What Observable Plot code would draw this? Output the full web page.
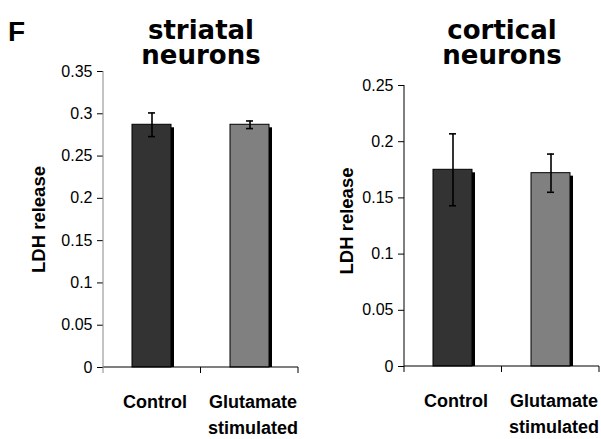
<!DOCTYPE html>
<html><head><meta charset="utf-8">
<script src="https://cdn.jsdelivr.net/npm/d3@7"></script>
<script src="https://cdn.jsdelivr.net/npm/@observablehq/plot@0.6"></script>
<style>
body{margin:0;background:#fff}
#wrap{position:relative;width:601px;height:439px;overflow:hidden;background:#fff}
.panel{position:absolute;top:0}
.title{position:absolute;font-family:"DejaVu Sans",sans-serif;font-weight:bold;font-size:26px;line-height:25px;text-align:center;width:220px;color:#000}
</style></head><body>
<div id="wrap">
  <div id="left" class="panel" style="left:0px"></div>
  <div id="right" class="panel" style="left:300px"></div>
  <div class="title" style="left:91px;top:17.5px">striatal<br>neurons</div>
  <div class="title" style="left:392px;top:17.5px">cortical<br>neurons</div>
  <div style="position:absolute;left:8px;top:18px;font:bold 28px/28px 'Liberation Sans',Arial,sans-serif;color:#000">F</div>
</div>
<script>
const categories = ["Control", "Glutamate stimulated"];
const striatalMean = [0.287, 0.287];
const striatalErr = [0.014, 0.0045];
const corticalMean = [0.175, 0.172];
const corticalErr = [0.032, 0.017];
const barColors = ["#333333", "#808080"];
const striatalTicks = [0, 0.05, 0.1, 0.15, 0.2, 0.25, 0.3, 0.35];
const corticalTicks = [0, 0.05, 0.1, 0.15, 0.2, 0.25];
const yLabel = "LDH release";

function panel({mean, err, ticks, width, mL, mR, mT, mB, axisColor, labelDx, labelDy}) {
  const yMax = ticks[ticks.length - 1];
  const data = categories.map((c, i) => ({cat: c, v: mean[i], lo: mean[i] - err[i], hi: mean[i] + err[i], fill: barColors[i]}));
  const axesMark = (index, scales, values, dims) => {
    const x = scales.x;
    const bw = x.bandwidth ? x.bandwidth() : 0;
    const x0 = dims.marginLeft, x1 = dims.width - dims.marginRight;
    const yb = dims.height - dims.marginBottom, yt = dims.marginTop;
    const g = d3.create("svg:g");
    const mids = [];
    for (let i = 0; i < categories.length - 1; i++) mids.push((x(categories[i]) + x(categories[i + 1]) + bw) / 2);
    const bounds = [...mids, x1];
    g.append("line").attr("x1", x0).attr("x2", x1).attr("y1", yb).attr("y2", yb).attr("stroke", "#000").attr("stroke-width", 1);
    for (const b of bounds) g.append("line").attr("x1", b).attr("x2", b).attr("y1", yb).attr("y2", yb + 6).attr("stroke", "#000");
    g.append("line").attr("x1", x0).attr("x2", x0).attr("y1", yt).attr("y2", yb + 6).attr("stroke", axisColor).attr("stroke-width", 1);
    return g.node();
  };
  return Plot.plot({
    width, height: 439, marginLeft: mL, marginRight: mR, marginTop: mT, marginBottom: mB,
    style: {fontFamily: "'Liberation Sans', Arial, sans-serif", fontSize: "16px", color: "#000", background: "transparent", overflow: "visible"},
    x: {domain: categories, paddingInner: 0.6, paddingOuter: 0.29, axis: null},
    y: {domain: [0, yMax], axis: null},
    color: {type: "identity"},
    marks: [
      Plot.barY(data, {x: "cat", y: "v", fill: "#000", dx: 3, dy: 3, insetBottom: 3}),
      Plot.barY(data, {x: "cat", y: "v", fill: "fill", stroke: "#000", strokeWidth: 1}),
      Plot.ruleX(data, {x: "cat", y1: "lo", y2: "hi", stroke: "#000", strokeWidth: 1.6}),
      Plot.tickY(data, {x: "cat", y: "lo", insetLeft: 16, insetRight: 16, stroke: "#000", strokeWidth: 1.6}),
      Plot.tickY(data, {x: "cat", y: "hi", insetLeft: 16, insetRight: 16, stroke: "#000", strokeWidth: 1.6}),
      Plot.axisY({ticks, tickFormat: d3.format("~g"), tickSize: 6, tickPadding: 5, label: null, fontSize: 16}),
      Plot.text([yLabel], {frameAnchor: "left", textAnchor: "middle", rotate: -90, dx: labelDx, dy: labelDy, fontWeight: "bold", fontSize: 18.5, fill: "#000"}),
      Plot.text(data, {x: "cat", text: d => d.cat.replace(" ", "\n"), frameAnchor: "bottom", textAnchor: "middle", lineAnchor: "top", dy: 22, dx: 3, fontWeight: "bold", fontSize: 18, lineHeight: 1.45, fill: "#000"}),
      axesMark
    ]
  });
}

document.getElementById("left").append(panel({
  mean: striatalMean, err: striatalErr, ticks: striatalTicks,
  width: 300, mL: 103, mR: 2, mT: 71, mB: 72, axisColor: "#888", labelDx: -64, labelDy: 0
}));
document.getElementById("right").append(panel({
  mean: corticalMean, err: corticalErr, ticks: corticalTicks,
  width: 301, mL: 104, mR: 2, mT: 85, mB: 73, axisColor: "#000", labelDx: -57, labelDy: -5
}));
</script>
</body></html>
